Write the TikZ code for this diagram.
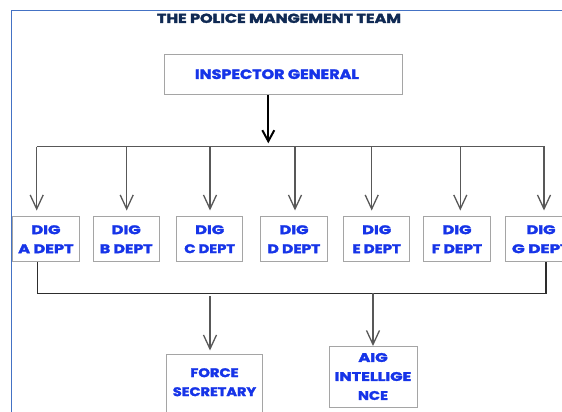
\documentclass[tikz,border=0pt]{standalone}
\usepackage{fontspec}
\setmainfont{Poppins}[BoldFeatures={FakeBold=2}]
\usetikzlibrary{arrows.meta}
\definecolor{framec}{RGB}{68,114,196}
\definecolor{titlec}{RGB}{16,42,84}
\definecolor{txtc}{RGB}{22,52,232}
\definecolor{boxc}{RGB}{165,165,165}
\definecolor{connc}{RGB}{88,88,88}
\definecolor{lowc}{RGB}{45,45,45}
\newcommand\fw[2]{\resizebox{#1pt}{\height}{#2}}
\begin{document}
\begin{tikzpicture}[x=1pt,y=-1pt,
  boxtxt/.style={inner sep=0pt,align=center,text=txtc,font=\bfseries\fontsize{12.5}{19}\selectfont},
  box/.style={boxtxt,draw=boxc,line width=1pt,fill=white},
  dig/.style={box,minimum width=66.4pt,minimum height=45pt},
  conn/.style={draw=connc,line width=1.3pt},
  arr/.style={conn,-{Straight Barb[length=14pt,width=13pt]}},
  mainarr/.style={draw=black,line width=2pt,-{Straight Barb[length=11pt,width=12pt]}},
  lower/.style={draw=lowc,line width=1.2pt},
  frame/.style={draw=framec,line width=1.5pt}
]
\useasboundingbox (0,0) rectangle (562,412);
\clip (0,0) rectangle (562,412);
\fill[white] (0,0) rectangle (562,412);
% frame
\coordinate (fBL) at (11.7,430);
\coordinate (fTL) at (11.7,10.7);
\coordinate (fTR) at (580,10.7);
\draw[frame] (fBL) -- (fTL) -- (fTR);
% title
\node[inner sep=0pt,text=titlec,font=\bfseries\fontsize{13}{13}\selectfont] (title) at (279,18.3) {\fw{244}{THE POLICE MANGEMENT TEAM}};
% inspector general
\node[box,minimum width=238.4pt,minimum height=40.3pt,font=\bfseries\fontsize{13.5}{14}\selectfont] (ig) at (283.5,74.2) {\makebox[177pt][l]{\fw{164}{INSPECTOR GENERAL}}};
% DIG boxes
\node[dig] (dA) at (45.9,239.2) {\fw{29}{DIG}\\\fw{55.4}{A DEPT}};
\node[dig] (dB) at (126.2,239.2) {\fw{29}{DIG}\\\fw{52.7}{B DEPT}};
\node[dig] (dC) at (209.7,239.2) {\fw{29}{DIG}\\\fw{50.7}{C DEPT}};
\node[dig] (dD) at (294,239.2) {\fw{29}{DIG}\\\fw{52.7}{D DEPT}};
\node[dig] (dE) at (376.7,239.2) {\fw{29}{DIG}\\\fw{48.3}{E DEPT}};
\node[dig] (dF) at (457,239.2) {\fw{29}{DIG}\\\fw{50.3}{F DEPT}};
\node[dig] (dG) at (539,239.2) {\hspace*{4pt}\fw{29}{DIG}\\\hspace*{4pt}\fw{58}{G DEPT}};
% bottom boxes
\node[box,minimum width=96pt,minimum height=64pt] (fs) at (214,386) {};
\node[boxtxt] (fsT) at (214.5,382.2) {\fw{48.3}{FORCE}\\\fw{83.3}{SECRETARY}};
\node[box,minimum width=88pt,minimum height=61pt] (aig) at (373,376.5) {\fw{29.3}{AIG}\\\fw{76.7}{INTELLIGE}\\\fw{30}{NCE}};
% main arrow and bus
\coordinate (bus) at (268.3,146.7);
\coordinate (busL) at (36.7,146.7);
\coordinate (busR) at (544.5,146.7);
\draw[mainarr] (ig.south -| bus) -- ([yshift=3.4pt]bus);
\draw[conn] (busL) -- (busR);
\coordinate (xA) at (36.7,146.7);
\coordinate (xB) at (126.7,146.7);
\coordinate (xC) at (210,146.7);
\coordinate (xD) at (295,146.7);
\coordinate (xE) at (371.7,146.7);
\coordinate (xF) at (460.3,146.7);
\coordinate (xG) at (544,146.7);
\foreach \n in {A,B,C,D,E,F,G}
  \draw[arr] (x\n) -- ([yshift=5.7pt]d\n.north -| x\n);
% lower connectors
\coordinate (lowL) at (37.3,293.3);
\coordinate (lowR) at (546,293.3);
\draw[lower] (dA.south -| lowL) -- (lowL) -- (lowR) -- (dG.south -| lowR);
\coordinate (xFS) at (210,296);
\coordinate (xAIG) at (373,293.3);
\draw[arr] (xFS) -- ([yshift=3pt]fs.north -| xFS);
\draw[arr] (xAIG) -- ([yshift=-0.5pt]aig.north -| xAIG);
\end{tikzpicture}
\end{document}
